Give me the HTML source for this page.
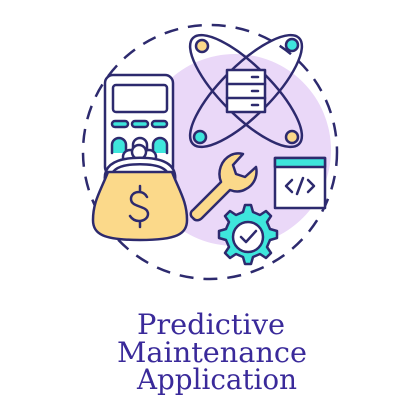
<!DOCTYPE html><html><head><style>body{margin:0;background:#fff}svg{display:block}</style></head><body>
<svg width="418" height="418" viewBox="0 0 418 418" xmlns="http://www.w3.org/2000/svg">
<circle cx="235" cy="150" r="96" fill="#ead8f8"/>
<circle cx="210" cy="152" r="127" fill="none" stroke="#2d2a6e" stroke-width="2.5" stroke-dasharray="14 10"/>
<g stroke="#2d2a6e" stroke-width="2.5" fill="none" stroke-linejoin="round" stroke-linecap="round">
<ellipse cx="246" cy="91" rx="75" ry="25" transform="rotate(45 246 91)"/>
<ellipse cx="246" cy="91" rx="75" ry="25" transform="rotate(-45 246 91)"/>
<circle cx="202" cy="46" r="6" fill="#fbd98a"/><circle cx="292" cy="45" r="6" fill="#3ee6dc"/>
<circle cx="200" cy="137" r="6" fill="#3ee6dc"/><circle cx="292" cy="137" r="6" fill="#fbd98a"/>
<rect x="227" y="70" width="38" height="42" fill="#fff"/>
<line x1="227" y1="84" x2="265" y2="84"/><line x1="227" y1="98" x2="265" y2="98"/>
<line x1="252" y1="77" x2="258" y2="77"/><line x1="252" y1="91" x2="258" y2="91"/><line x1="252" y1="105" x2="258" y2="105"/>
<rect x="105" y="75" width="68" height="100" rx="8" fill="#fff"/>
<rect x="113" y="85" width="54" height="27" rx="3" fill="#fff"/>
<rect x="112" y="121" width="16" height="6" rx="3" fill="#3ee6dc"/>
<rect x="132" y="121" width="16" height="6" rx="3" fill="#3ee6dc"/>
<rect x="152" y="121" width="15" height="6" rx="3" fill="#3ee6dc"/>
<path d="M112 153v-8a7 7 0 0 1 14 0v8" fill="#3ee6dc"/>
<path d="M133 153v-8a7 7 0 0 1 14 0v8"/>
<path d="M153 153v-8a7 7 0 0 1 14 0v8" fill="#3ee6dc"/>
<circle cx="130" cy="157" r="7" fill="#fff"/><circle cx="149" cy="157" r="7" fill="#fff"/><circle cx="139" cy="152" r="7" fill="#fff"/>
<path d="M108 178c0-12 12-17 32-17s32 5 32 17" fill="#fff" stroke-width="9" stroke="#2d2a6e"/>
<path d="M108 178c0-12 12-17 32-17s32 5 32 17" fill="none" stroke-width="4" stroke="#fff"/>
<path d="M108 172c-8 20-15 30-15 48 0 14 10 20 47 20s47-6 47-20c0-18-7-28-15-48z" fill="#fbd98a"/>
<path d="M147 197c-2-4-5-5-8-5-5 0-8 3-8 7 0 9 17 6 17 15 0 4-4 7-9 7-4 0-7-2-9-5M140 186v6M140 221v6"/>
<path d="M193 210l28-28c-4-10 0-22 10-27 4-2 8-2 12-1l-10 11 3 9 9 3 11-10c2 9-2 18-10 22-5 3-11 3-16 1l-28 28c-3 3-7 3-9 0-3-2-3-6 0-8z" fill="#fbd98a"/>
<rect x="275" y="158" width="50" height="50" fill="#fff"/>
<rect x="275" y="158" width="50" height="9" fill="#3ee6dc"/>
<path d="M292 180l-6 6 6 6M308 180l6 6-6 6M303 178l-6 16"/>
<path d="M245 205l6 0 2 7 7 3 6-4 5 5-4 6 3 7 7 2 0 7-7 2-3 7 4 6-5 5-6-4-7 3-2 7-6 0-2-7-7-3-6 4-5-5 4-6-3-7-7-2 0-7 7-2 3-7-4-6 5-5 6 4 7-3z" fill="#3ee6dc"/>
<circle cx="248" cy="237" r="15" fill="#fff"/>
<path d="M241 237l5 5 10-11"/>
</g>
<g font-family="DejaVu Serif, serif" font-size="28" fill="#3a2a9a" text-anchor="middle">
<text x="211" y="334" textLength="148" lengthAdjust="spacingAndGlyphs">Predictive</text>
<text x="212" y="362" textLength="190" lengthAdjust="spacingAndGlyphs">Maintenance</text>
<text x="217" y="389" textLength="160" lengthAdjust="spacingAndGlyphs">Application</text>
</g>
</svg></body></html>
